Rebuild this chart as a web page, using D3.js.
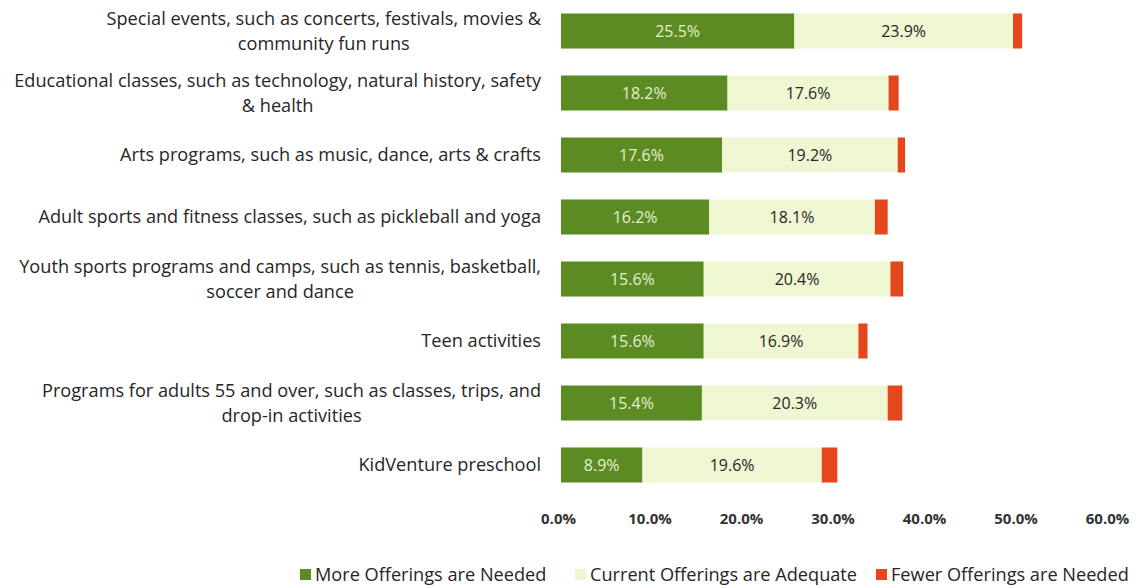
<!DOCTYPE html>
<html>
<head>
<meta charset="utf-8">
<script src="https://cdn.jsdelivr.net/npm/d3@7"></script>
<style>
  html, body { margin: 0; padding: 0; background: #ffffff; }
  svg { display: block; }
  text { font-family: "Open Sans", Lato, sans-serif; }
</style>
</head>
<body>
<svg id="chart" width="1144" height="587"></svg>
<script>
// Program categories (label lines as wrapped in the chart)
const categories = [
  ["Special events, such as concerts, festivals, movies &", "community fun runs"],
  ["Educational classes, such as technology, natural history, safety", "& health"],
  ["Arts programs, such as music, dance, arts & crafts"],
  ["Adult sports and fitness classes, such as pickleball and yoga"],
  ["Youth sports programs and camps, such as tennis, basketball,", "soccer and dance"],
  ["Teen activities"],
  ["Programs for adults 55 and over, such as classes, trips, and", "drop-in activities"],
  ["KidVenture preschool"]
];

const seriesNames = ["More Offerings are Needed", "Current Offerings are Adequate", "Fewer Offerings are Needed"];
const moreNeeded   = [25.5, 18.2, 17.6, 16.2, 15.6, 15.6, 15.4, 8.9];
const adequate     = [23.9, 17.6, 19.2, 18.1, 20.4, 16.9, 20.3, 19.6];
const fewerNeeded  = [1.0, 1.1, 0.8, 1.4, 1.4, 1.0, 1.6, 1.7];
const tickValues   = [0, 10, 20, 30, 40, 50, 60];

const colors = ["#5b8b22", "#eef6d2", "#e6461c"];
const labelColors = ["#e4f0cf", "#262626", null];

const svg = d3.select("#chart");

// pick a label size so the longest single-line label spans ~503px
const probe = svg.append("text").attr("font-size", 20).text(categories[3][0]);
const baseSize = 20 * 503 / probe.node().getComputedTextLength();
probe.remove();

const x = d3.scaleLinear().domain([0, 60]).range([561, 1110]);
const y = d3.scaleBand()
  .domain(d3.range(categories.length))
  .range([0, 496])
  .paddingInner(0.435)
  .paddingOuter(0.2175);

const rows = categories.map((c, i) => ({
  idx: i,
  lines: c,
  values: [moreNeeded[i], adequate[i], fewerNeeded[i]]
}));

const stack = d3.stack().keys([0, 1, 2]).value((d, k) => d.values[k]);
const layers = stack(rows);

// stacked bar segments
const g = svg.append("g");
layers.forEach((layer, k) => {
  g.selectAll(null)
    .data(layer)
    .join("rect")
    .attr("x", d => x(d[0]))
    .attr("y", d => y(d.data.idx))
    .attr("width", d => x(d[1]) - x(d[0]))
    .attr("height", y.bandwidth())
    .attr("fill", colors[k]);
});

// value labels for the first two segments
layers.slice(0, 2).forEach((layer, k) => {
  g.selectAll(null)
    .data(layer)
    .join("text")
    .attr("x", d => (x(d[0]) + x(d[1])) / 2)
    .attr("y", d => y(d.data.idx) + y.bandwidth() / 2)
    .attr("dy", "0.35em")
    .attr("text-anchor", "middle")
    .attr("font-size", baseSize * 0.88)
    .attr("fill", labelColors[k])
    .text(d => d.data.values[k].toFixed(1) + "%");
});

// category labels, wrapped lines centered within a right-aligned block
const labelRight = 541;
const lineGap = 25;
const catG = svg.append("g");
rows.forEach(r => {
  const t = catG.append("text")
    .attr("font-size", baseSize)
    .attr("fill", "#262626")
    .attr("text-anchor", "middle");
  const spans = r.lines.map(line => t.append("tspan").text(line));
  const widths = spans.map(s => s.node().getComputedTextLength());
  const blockW = d3.max(widths);
  const cx = labelRight - blockW / 2;
  const cy = y(r.idx) + y.bandwidth() / 2;
  const n = r.lines.length;
  spans.forEach((s, j) => {
    s.attr("x", cx)
     .attr("y", cy + (j - (n - 1) / 2) * lineGap)
     .attr("dy", "0.35em");
  });
});

// x axis tick labels (no axis line)
const axis = d3.axisBottom(x)
  .tickValues(tickValues)
  .tickSize(0)
  .tickPadding(0)
  .tickFormat(d => d.toFixed(1) + "%");
const axG = svg.append("g").attr("transform", "translate(-3,513)").call(axis);
axG.select(".domain").remove();
axG.selectAll("text")
  .attr("font-family", "Lato, 'Open Sans', sans-serif")
  .attr("font-size", 15)
  .attr("font-weight", "bold")
  .attr("fill", "#333333");

// legend
const legendItems = [
  { name: seriesNames[0], color: colors[0], x: 300 },
  { name: seriesNames[1], color: colors[1], x: 575 },
  { name: seriesNames[2], color: colors[2], x: 876 }
];
const lg = svg.append("g").attr("transform", "translate(0,575)");
legendItems.forEach(it => {
  lg.append("rect")
    .attr("x", it.x).attr("y", -6)
    .attr("width", 11).attr("height", 11)
    .attr("fill", it.color);
  lg.append("text")
    .attr("x", it.x + 15).attr("y", 0)
    .attr("dy", "0.35em")
    .attr("font-size", baseSize)
    .attr("fill", "#262626")
    .text(it.name);
});
</script>
</body>
</html>
